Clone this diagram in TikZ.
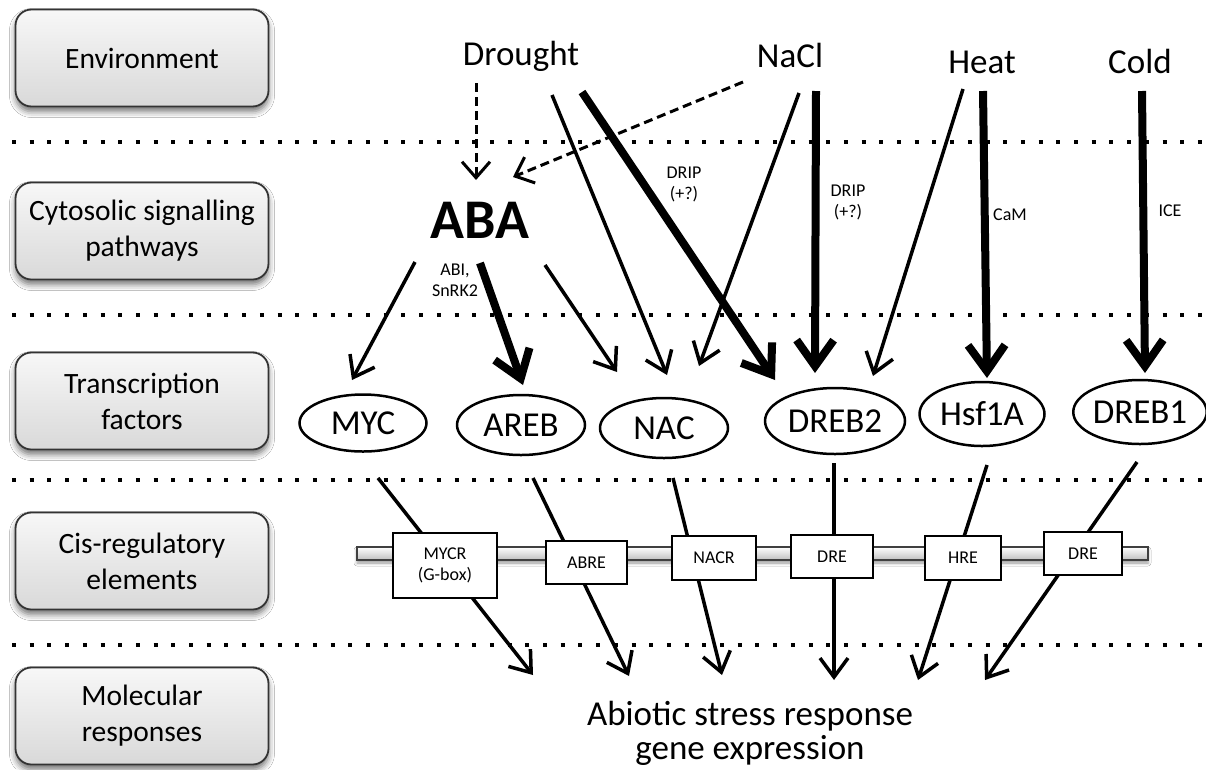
\documentclass[tikz,border=0pt]{standalone}
\usepackage{fontspec}
\setmainfont{Carlito}
\usetikzlibrary{arrows.meta,shapes.geometric,shadows.blur}

\begin{document}
\begin{tikzpicture}[x=1pt,y=-1pt,
  layerbox/.style={draw=black!80, line width=1.8pt, rounded corners=16pt,
    top color=gray!6, bottom color=gray!30, minimum width=253pt, minimum height=97pt,
    align=center, font=\fontsize{29.5}{36}\selectfont,
    blur shadow={shadow xshift=0pt, shadow yshift=-5pt, shadow blur radius=6pt, shadow opacity=55}},
  sepline/.style={line width=4pt, dash pattern=on 4pt off 13.7pt},
  bigtext/.style={inner sep=0pt, font=\fontsize{35}{34}\selectfont},
  smalltext/.style={inner sep=0pt, align=center, font=\fontsize{18}{21}\selectfont},
  tf/.style={draw, ellipse, line width=2.5pt, inner sep=0pt, font=\fontsize{35}{34}\selectfont},
  cre/.style={draw, line width=2pt, fill=white, inner sep=0pt, align=center, font=\fontsize{18}{21}\selectfont},
  thinarrow/.style={line width=3.5pt, -{Straight Barb[length=19pt,width=28pt]}},
  thickarrow/.style={line width=8pt, -{Straight Barb[length=26pt,width=37pt]}},
  dasharrow/.style={line width=3pt, dash pattern=on 9pt off 5pt, -{Straight Barb[length=16pt,width=28pt]}}
]
\useasboundingbox[fill=white] (0,0) rectangle (1206,769);

% layer boxes on the left
\node[layerbox] (env) at (142,58) {Environment};
\node[layerbox] (cyto) at (142,231) {Cytosolic signalling\\pathways};
\node[layerbox] (tfl) at (142,401) {Transcription\\factors};
\node[layerbox] (cis) at (142,561) {Cis-regulatory\\elements};
\node[layerbox] (mol) at (142,716) {Molecular\\responses};

% dotted separators
\foreach \yy in {142,315,480,645}
  \draw[sepline] (12,\yy) -- (1206,\yy);

% stresses
\node[bigtext, anchor=base] (drought) at (521,65) {Drought};
\node[bigtext, anchor=base] (nacl) at (790,67) {NaCl};
\node[bigtext, anchor=base] (heat) at (982,73) {Heat};
\node[bigtext, anchor=base] (cold) at (1140,73) {Cold};

% abscisic acid
\node[inner sep=0pt, anchor=base, font=\fontsize{56}{60}\selectfont\bfseries] (aba) at (480,238) {ABA};

% transcription factors
\node[tf, minimum width=127pt, minimum height=57pt] (myc) at (363,423) {MYC};
\node[tf, minimum width=128pt, minimum height=60pt] (areb) at (521,425) {AREB};
\node[tf, minimum width=128pt, minimum height=60pt] (nac) at (664,428) {NAC};
\node[tf, minimum width=140pt, minimum height=66pt] (dreb2) at (835,421) {DREB2};
\node[tf, minimum width=125pt, minimum height=64pt] (hsf) at (982,414) {Hsf1A};
\node[tf, minimum width=125pt, minimum height=64pt] (dreb1) at (1140,412) {DREB1};

% response
\node[bigtext, align=center] (resp) at (750,733) {Abiotic stress response\\gene expression};

% connector end points
\coordinate (dr-a) at (476,83);   \coordinate (aba-in1) at (476,180);
\coordinate (na-a) at (743,82);   \coordinate (aba-in2) at (513,177);
\coordinate (dr-1) at (552,95);   \coordinate (nac-in1) at (667,375);
\coordinate (dr-2) at (582,92);   \coordinate (dreb2-in1) at (775,380);
\coordinate (na-1) at (799,93);   \coordinate (nac-in2) at (699,366);
\coordinate (na-2) at (816,91);   \coordinate (dreb2-in2) at (815,373);
\coordinate (he-1) at (963,89);   \coordinate (dreb2-in3) at (873,376);
\coordinate (he-2) at (983,91);   \coordinate (hsf-in) at (987,378);
\coordinate (co-1) at (1142,91);  \coordinate (dreb1-in) at (1145,373);
\coordinate (aba-1) at (415,262); \coordinate (myc-in) at (352,380);
\coordinate (aba-2) at (480,263); \coordinate (areb-in) at (523,385);
\coordinate (aba-3) at (545,265); \coordinate (nac-in3) at (617,372);
\coordinate (myc-out) at (378,478);   \coordinate (resp-1) at (533,675);
\coordinate (areb-out) at (533,478);  \coordinate (resp-2) at (629,676);
\coordinate (nac-out) at (673,478);   \coordinate (resp-3) at (722,675);
\coordinate (dreb2-out) at (834,463); \coordinate (resp-4) at (834,680);
\coordinate (hsf-out) at (987,465);   \coordinate (resp-5) at (918,680);
\coordinate (dreb1-out) at (1137,462);\coordinate (resp-6) at (985,680);

% signalling
\draw[dasharrow] (dr-a) -- (aba-in1);
\draw[dasharrow] (na-a) -- (aba-in2);
\draw[thinarrow] (dr-1) -- (nac-in1);
\draw[thickarrow] (dr-2) -- (dreb2-in1);
\draw[thinarrow] (na-1) -- (nac-in2);
\draw[thickarrow] (na-2) -- (dreb2-in2);
\draw[thinarrow] (he-1) -- (dreb2-in3);
\draw[thickarrow] (he-2) -- (hsf-in);
\draw[thickarrow] (co-1) -- (dreb1-in);
\draw[thinarrow] (aba-1) -- (myc-in);
\draw[thickarrow] (aba-2) -- (areb-in);
\draw[thinarrow] (aba-3) -- (nac-in3);

% pathway labels
\node[smalltext] (drip1) at (684,184) {DRIP\\(+?)};
\node[smalltext] (drip2) at (848,202) {DRIP\\(+?)};
\node[smalltext] (cam) at (1010,215) {CaM};
\node[smalltext] (ice) at (1170,211) {ICE};
\node[smalltext] (abi) at (455,280) {ABI,\\SnRK2};

% gene expression
\draw[thinarrow] (myc-out) -- (resp-1);
\draw[thinarrow] (areb-out) -- (resp-2);
\draw[thinarrow] (nac-out) -- (resp-3);
\draw[thinarrow] (dreb2-out) -- (resp-4);
\draw[thinarrow] (hsf-out) -- (resp-5);
\draw[thinarrow] (dreb1-out) -- (resp-6);

% promoter strand
\path[draw=black!75, line width=1.6pt, top color=white, bottom color=gray!50,
  blur shadow={shadow xshift=0pt, shadow yshift=-3pt, shadow blur radius=3pt, shadow opacity=40}]
  (357,547) rectangle (1148,560);

% cis-regulatory elements
\node[cre, minimum width=104pt, minimum height=65pt] (mycr) at (445,565.5) {MYCR\\(G-box)};
\node[cre, minimum width=81pt, minimum height=43pt] (abre) at (586.5,562.5) {ABRE};
\node[cre, minimum width=84pt, minimum height=44pt] (nacr) at (714,558) {NACR};
\node[cre, minimum width=82pt, minimum height=43pt] (dre2) at (832,556.5) {DRE};
\node[cre, minimum width=76pt, minimum height=44pt] (hre) at (963,558) {HRE};
\node[cre, minimum width=78pt, minimum height=43pt] (dre1) at (1083,553.5) {DRE};
\end{tikzpicture}
\end{document}
